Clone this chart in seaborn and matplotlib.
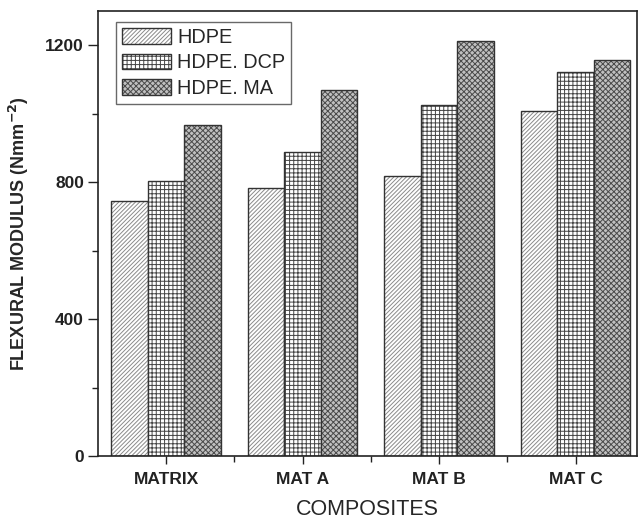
import numpy as np
import pandas as pd
import matplotlib
matplotlib.use('Agg')
import matplotlib.pyplot as plt
import seaborn as sns
from matplotlib.ticker import FixedLocator

# Data
composites = ['MATRIX', 'MAT A', 'MAT B', 'MAT C']
series = ['HDPE', 'HDPE. DCP', 'HDPE. MA']
hdpe = [745, 782, 818, 1009]
hdpe_dcp = [805, 888, 1026, 1121]
hdpe_ma = [968, 1071, 1212, 1156]

df = pd.DataFrame({
    'composite': composites * 3,
    'series': [series[0]] * 4 + [series[1]] * 4 + [series[2]] * 4,
    'modulus': hdpe + hdpe_dcp + hdpe_ma,
})

sns.set_style('ticks')
plt.rcParams['font.family'] = ['Liberation Sans', 'DejaVu Sans']
plt.rcParams['hatch.linewidth'] = 0.7

fig = plt.figure(figsize=(6.39, 5.19), dpi=100)
ax = fig.add_axes([0.153, 0.1214, 0.844, 0.857])

sns.barplot(data=df, x='composite', y='modulus', hue='series',
            palette=['white', 'white', '#c0c0c0'], edgecolor='#333333',
            linewidth=1.0, width=0.8, ax=ax, errorbar=None, legend=False)

# hatch pattern and hatch colour per series
hatches = ['////////', '++++', 'xxxxxx']
hatch_cols = ['#8a8a8a', '#444444', '#4a4a4a']
for cont, h, hc in zip(ax.containers, hatches, hatch_cols):
    for bar in cont:
        bar.set_hatch(h)
        bar._hatch_color = matplotlib.colors.to_rgba(hc)

ax.set_xlim(-0.5, 3.45)
ax.set_ylim(0, 1300)
ax.yaxis.set_major_locator(FixedLocator([0, 400, 800, 1200]))
ax.yaxis.set_minor_locator(FixedLocator([200, 600, 1000]))
ax.xaxis.set_minor_locator(FixedLocator([0.5, 1.5, 2.5]))
ax.tick_params(axis='both', which='major', direction='out', width=1.0,
               labelsize=12.5, colors='#222222')
ax.tick_params(axis='y', which='major', length=7, pad=3)
ax.tick_params(axis='x', which='major', length=5.5, pad=6)
ax.tick_params(axis='both', which='minor', direction='out', length=4, width=1.0, colors='#222222')
for lab in ax.get_xticklabels() + ax.get_yticklabels():
    lab.set_fontweight('bold')

for s in ax.spines.values():
    s.set_linewidth(1.2)
    s.set_color('#222222')

ax.set_xlabel('COMPOSITES', fontsize=15.5, labelpad=9)
ax.set_ylabel('FLEXURAL MODULUS (Nmm$^{\\mathbf{-2}}$)', fontsize=13, fontweight='bold', labelpad=10)

leg = ax.legend(ax.containers, series, loc='upper left', bbox_to_anchor=(0.027, 0.985),
                fontsize=14.3, frameon=True, fancybox=False, edgecolor='#444444',
                handlelength=2.45, handleheight=0.8, handletextpad=0.3,
                labelspacing=0.33, borderpad=0.3, borderaxespad=0.2)
leg.get_frame().set_linewidth(1.0)
for hnd, hc in zip(leg.legend_handles, hatch_cols):
    hnd._hatch_color = matplotlib.colors.to_rgba(hc)

fig.savefig('out.png', dpi=100)
